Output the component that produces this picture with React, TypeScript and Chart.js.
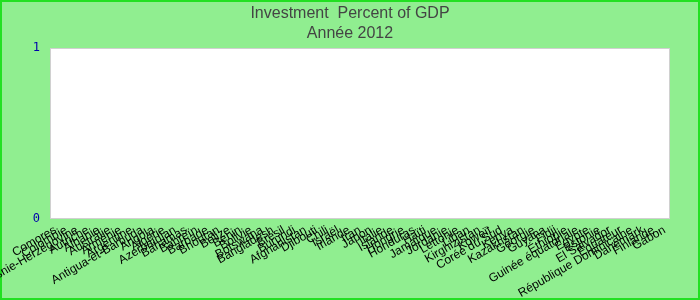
import React, { useEffect, useRef } from "react";
import { Chart, registerables } from "chart.js";

Chart.register(...registerables);

const titleLines = ["Investment  Percent of GDP", "Année 2012"];

const countries = [
  "Comores", "Colombie", "Bosnie-Herzégovine", "Autriche", "Albanie", "Australie",
  "Arménie", "Argentine", "Antigua-et-Barbuda", "Angola", "Algérie", "Azerbaïdjan",
  "Bahamas", "Bahreïn", "Barbade", "Bhoutan", "Belize", "Bénin", "Bolivie",
  "Botswana", "Bangladesh", "Brésil", "Burundi", "Afghanistan", "Djibouti",
  "Chili", "Israël", "Irlande", "Iran", "Japon", "Italie", "Islande", "Hongrie",
  "Honduras", "Haïti", "Jamaïque", "Jordanie", "Lettonie", "Liban", "Kirghizistan",
  "Koweït", "Corée du Sud", "Kenya", "Kazakhstan", "Géorgie", "Guyana", "Fidji",
  "Éthiopie", "Guinée équatoriale", "Égypte", "Estonie", "El Salvador", "Équateur",
  "République Dominicaine", "Danemark", "Finlande", "Gabon",
];

const investmentValues = countries.map(() => 0);

const yTicks = [0, 1];

export default function App() {
  const ref = useRef<HTMLCanvasElement | null>(null);

  useEffect(() => {
    document.body.style.margin = "0";
    const canvas = ref.current;
    if (!canvas) return;

    const bgPlugin = {
      id: "bg",
      beforeDraw(chart: any) {
        const { ctx, width, height, chartArea } = chart;
        ctx.save();
        ctx.fillStyle = "#90EE90";
        ctx.fillRect(0, 0, width, height);
        ctx.strokeStyle = "#22e022";
        ctx.lineWidth = 2;
        ctx.strokeRect(1, 1, width - 2, height - 2);
        ctx.fillStyle = "#ffffff";
        ctx.fillRect(chartArea.left, chartArea.top, chartArea.right - chartArea.left, chartArea.bottom - chartArea.top);
        ctx.strokeStyle = "#d0d0d0";
        ctx.lineWidth = 1;
        ctx.strokeRect(chartArea.left + 0.5, chartArea.top + 0.5, chartArea.right - chartArea.left - 1, chartArea.bottom - chartArea.top - 1);
        ctx.restore();
      },
    };

    const chart = new Chart(canvas, {
      type: "bar",
      data: {
        labels: countries,
        datasets: [
          {
            label: "Investment",
            data: investmentValues,
            backgroundColor: "#3366cc",
            borderWidth: 0,
          },
        ],
      },
      options: {
        animation: false,
        responsive: false,
        layout: { padding: { left: 30, right: 30, top: 0, bottom: 0 } },
        plugins: {
          legend: { display: false },
          tooltip: { enabled: false },
          title: {
            display: true,
            text: titleLines,
            color: "#444444",
            font: { family: "Liberation Sans, Arial", size: 16, weight: "normal", lineHeight: 1.25 },
            padding: { top: 4, bottom: 4 },
          },
        },
        scales: {
          x: {
            grid: { display: false, drawTicks: false },
            border: { display: false },
            ticks: {
              autoSkip: false,
              minRotation: 30,
              maxRotation: 30,
              padding: 4,
              color: "#000000",
              font: { family: "Liberation Sans, Arial", size: 12 },
            },
            afterFit(scale: any) {
              scale.height = 81;
            },
          },
          y: {
            min: 0,
            max: 1,
            afterBuildTicks(scale: any) {
              scale.ticks = yTicks.map((v) => ({ value: v }));
            },
            grid: { display: false, drawTicks: false },
            border: { display: false },
            ticks: {
              padding: 10,
              color: "#0000aa",
              font: { family: "DejaVu Sans Mono", size: 12 },
            },
            afterFit(scale: any) {
              scale.width = 20;
            },
          },
        },
      },
      plugins: [bgPlugin],
    });

    return () => chart.destroy();
  }, []);

  return (
    <div style={{ position: "absolute", left: 0, top: 0, width: 700, height: 300 }}>
      <canvas ref={ref} width={700} height={300} style={{ display: "block" }} />
    </div>
  );
}
